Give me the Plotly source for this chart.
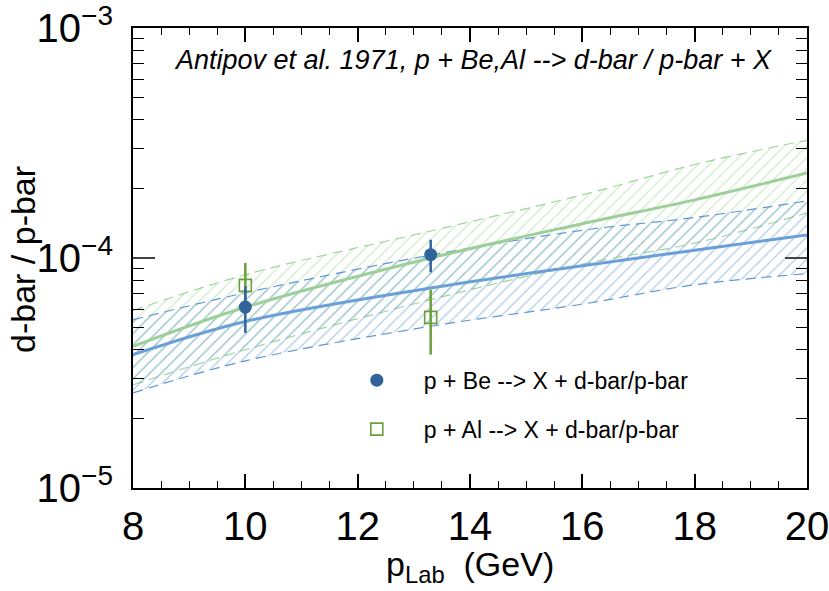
import plotly.graph_objects as go

# ---------------- data ----------------
p_band = [8, 10, 13.3, 16, 18, 20]
be_central = [3.80e-5, 5.30e-5, 7.41e-5, 9.26e-5, 1.08e-4, 1.26e-4]
be_upper = [5.39e-5, 7.06e-5, 1.03e-4, 1.32e-4, 1.50e-4, 1.77e-4]
be_lower = [2.59e-5, 3.57e-5, 5.05e-5, 6.30e-5, 7.65e-5, 8.55e-5]
al_central = [4.13e-5, 6.11e-5, 1.00e-4, 1.41e-4, 1.79e-4, 2.34e-4]
al_upper = [5.91e-5, 8.46e-5, 1.31e-4, 1.88e-4, 2.55e-4, 3.25e-4]
al_lower = [2.81e-5, 3.99e-5, 6.59e-5, 9.42e-5, 1.16e-4, 1.57e-4]

p_be = [10, 13.3]
ratio_be = [6.12e-5, 1.034e-4]
ratio_be_hi = [7.53e-5, 1.20e-4]
ratio_be_lo = [4.72e-5, 8.66e-5]

p_al = [10, 13.3]
ratio_al = [7.60e-5, 5.52e-5]
ratio_al_hi = [9.51e-5, 7.28e-5]
ratio_al_lo = [6.00e-5, 3.80e-5]

x_ticks = [8, 10, 12, 14, 16, 18, 20]
y_major = [1e-5, 1e-4, 1e-3]
y_major_text = ["10<sup>\u22125</sup>", "10<sup>\u22124</sup>", "10<sup>\u22123</sup>"]

name_be = "p + Be --> X + d-bar/p-bar"
name_al = "p + Al --> X + d-bar/p-bar"
title_text = "Antipov et al. 1971, p + Be,Al --> d-bar / p-bar + X"

# ---------------- styles ----------------
FONT = "Liberation Sans, Arial, Helvetica, sans-serif"
BLUE_MK = "#30639a"
BLUE_LN = "#6a9fd8"
BLUE_HATCH = "#5f97d6"
GREEN_MK = "#6aa03c"
GREEN_LN = "#9dd098"
GREEN_HATCH = "#9fd699"

fig = go.Figure()

def band(upper, lower, color):
    fig.add_trace(go.Scatter(x=p_band, y=upper, mode="lines",
                             line=dict(color=color, width=1.2, dash="10px,6px", shape="spline"),
                             showlegend=False, hoverinfo="skip"))
    fig.add_trace(go.Scatter(x=p_band, y=lower, mode="lines",
                             line=dict(color=color, width=1.2, dash="10px,6px", shape="spline"),
                             fill="tonexty", fillcolor="rgba(0,0,0,0)",
                             fillpattern=dict(shape="/", fgcolor=color, bgcolor="rgba(0,0,0,0)",
                                              size=8, solidity=0.16, fillmode="overlay"),
                             showlegend=False, hoverinfo="skip"))

band(al_upper, al_lower, GREEN_HATCH)
band(be_upper, be_lower, BLUE_HATCH)

fig.add_trace(go.Scatter(x=p_band, y=al_central, mode="lines",
                         line=dict(color=GREEN_LN, width=3, shape="spline"),
                         showlegend=False, hoverinfo="skip"))
fig.add_trace(go.Scatter(x=p_band, y=be_central, mode="lines",
                         line=dict(color=BLUE_LN, width=3, shape="spline"),
                         showlegend=False, hoverinfo="skip"))

fig.add_trace(go.Scatter(
    x=p_al, y=ratio_al, mode="markers", name=name_al, legendgroup="al", legendrank=2,
    marker=dict(symbol="square-open", size=12, color=GREEN_MK, line=dict(width=1.6, color=GREEN_MK)),
    error_y=dict(type="data", symmetric=False,
                 array=[h - v for h, v in zip(ratio_al_hi, ratio_al)],
                 arrayminus=[v - l for v, l in zip(ratio_al, ratio_al_lo)],
                 color=GREEN_MK, thickness=2.5, width=0)))

fig.add_trace(go.Scatter(
    x=p_be, y=ratio_be, mode="markers", name=name_be, legendgroup="be", legendrank=1,
    marker=dict(symbol="circle", size=13, color=BLUE_MK),
    error_y=dict(type="data", symmetric=False,
                 array=[h - v for h, v in zip(ratio_be_hi, ratio_be)],
                 arrayminus=[v - l for v, l in zip(ratio_be, ratio_be_lo)],
                 color=BLUE_MK, thickness=2.5, width=0)))

y_minor = [m * 10 ** e for e in (-5, -4) for m in range(2, 10)]
x_minor = [8 + 0.5 * i for i in range(25)]

fig.update_layout(
    width=829, height=591,
    margin=dict(l=133, r=22, t=28, b=103),
    paper_bgcolor="white", plot_bgcolor="white",
    font=dict(family=FONT, color="black"),
    legend=dict(x=0.292, y=0.281, xanchor="left", yanchor="top",
                traceorder="grouped", tracegroupgap=16, itemwidth=84,
                font=dict(size=23, family=FONT), bgcolor="rgba(0,0,0,0)"),
    xaxis=dict(range=[8, 20], tickmode="array", tickvals=x_ticks, automargin=False,
               ticklabeloverflow="allow",
               ticks="inside", ticklen=14, tickwidth=1.5, tickcolor="black",
               showline=True, linecolor="black", linewidth=2, mirror="allticks",
               showgrid=False, zeroline=False,
               tickfont=dict(size=40, family=FONT), ticklabelstandoff=2,
               minor=dict(tickmode="array", tickvals=x_minor, ticks="inside",
                          ticklen=7, tickwidth=1.2, tickcolor="black", showgrid=False)),
    yaxis=dict(type="log", range=[-5, -3], tickmode="array", tickvals=y_major,
               ticktext=y_major_text, automargin=False, ticklabeloverflow="allow",
               ticks="inside", ticklen=22, tickwidth=1.5, tickcolor="#444",
               showline=True, linecolor="black", linewidth=2, mirror="allticks",
               showgrid=False, zeroline=False,
               tickfont=dict(size=40, family=FONT), ticklabelstandoff=10,
               minor=dict(tickmode="array", tickvals=y_minor, ticks="inside",
                          ticklen=11, tickwidth=1.2, tickcolor="black", showgrid=False)),
    annotations=[
        dict(text="<i>" + title_text + "</i>", xref="paper", yref="paper", x=0.505, y=0.930,
             xanchor="center", yanchor="middle", showarrow=False,
             font=dict(size=27, family=FONT, color="black")),
        dict(text="p<sub>Lab</sub>  (GeV)", xref="paper", yref="paper", x=0.5, y=-0.12,
             xanchor="center", yanchor="top", showarrow=False,
             font=dict(size=34, family=FONT)),
        dict(text="d-bar / p-bar", xref="paper", yref="paper", x=-0.163, y=0.496,
             xanchor="center", yanchor="middle", showarrow=False, textangle=-90,
             font=dict(size=34, family=FONT)),
    ],
)

fig.write_html("out.html")
